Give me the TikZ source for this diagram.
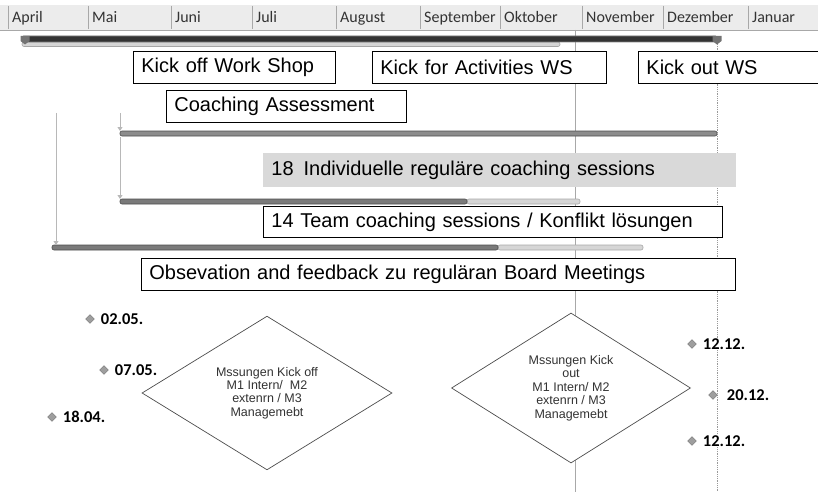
\documentclass[tikz,border=0pt]{standalone}
\usepackage{fontspec}
\setmainfont{Liberation Sans}
\newfontfamily\calibri{Carlito}
\usetikzlibrary{shapes.geometric,arrows.meta,positioning}

\definecolor{hdrgray}{HTML}{ECECEC}
\definecolor{sepgray}{HTML}{A8A8A8}
\definecolor{bardark}{HTML}{7A7A7A}
\definecolor{barlight}{HTML}{D6D6D6}
\definecolor{arrowgray}{HTML}{B8B8B8}
\definecolor{boxgray}{HTML}{D9D9D9}
\definecolor{textgray}{HTML}{333333}

\tikzset{
  month/.style={anchor=base west, inner sep=0pt, text=textgray, font=\calibri\fontsize{16}{16}\selectfont},
  taskbox/.style={draw=black, fill=white, line width=0.8pt, anchor=north west, inner xsep=8pt, inner ysep=0pt, align=left, font=\fontsize{20}{20}\selectfont},
  bigdiamond/.style={diamond, draw=black!70, fill=white, line width=0.7pt, inner sep=0pt, align=center, text=textgray, font=\fontsize{12.5}{13.4}\selectfont},
  msdot/.style={diamond, draw=black!55, fill=black!38, inner sep=0pt, minimum size=9pt},
  mslabel/.style={inner sep=1pt, fill=white, text=black, font=\calibri\bfseries\fontsize{16.5}{16.5}\selectfont},
  progress/.style={rounded corners=2pt, draw=black!70, fill=bardark, line width=0.6pt},
  rest/.style={rounded corners=2pt, draw=black!35, fill=barlight, line width=0.6pt},
  link/.style={arrowgray, line width=1pt, -{Triangle[width=5pt,length=4pt]}}
}

\newcommand{\tmark}[2]{\fill[black!55] (#1,#2) ++(-4.5,-3) -- ++(9,0) -- ++(0,5) -- ++(-4.5,3.5) -- ++(-4.5,-3.5) -- cycle;}

\begin{document}
\begin{tikzpicture}
  \useasboundingbox (0,0) rectangle (818pt,-492pt);
  \clip (0,0) rectangle (818pt,-492pt);

  \begin{scope}[x=1pt, y=-1pt]

  % months
  \fill[hdrgray] (0,5) rectangle (818,30);
  \draw[sepgray, line width=0.6pt] (0,30) -- (818,30);
  \foreach \x/\m in {8/April, 88/Mai, 171/Juni, 252/Juli, 336/August, 420/September, 500/Oktober, 582/November, 663/Dezember, 748/Januar}{
    \draw[sepgray, line width=0.8pt] (\x,6) -- (\x,29);
    \node[month] (m-\m) at (\x+4,23) {\m};
  }

  % today and end lines
  \draw[sepgray, line width=0.7pt] (575,30) -- (575,492);
  \draw[black!40, line width=0.8pt, densely dotted] (717,44) -- (717,492);

  % overall bar
  \draw[rest] (22,42) rectangle (560,46.5);
  \draw[rounded corners=1.5pt, draw=black!50, fill=black!80, line width=0.8pt] (22,36) rectangle (717,42);
  \tmark{25}{39}
  \tmark{717}{39}

  % task bars
  \draw[progress, fill=black!45] (120,131) rectangle (717,136);
  \coordinate (b1) at (120,131);
  \draw[rest] (467,199) rectangle (580,204);
  \draw[progress] (120,199) rectangle (467,204);
  \coordinate (b2) at (120,199);
  \draw[rest] (498,245) rectangle (643,250);
  \draw[progress] (52,245) rectangle (498,250);
  \coordinate (b3) at (56,245);

  \coordinate (s1) at (120,113);
  \coordinate (s2) at (120,137);
  \coordinate (s3) at (56,113);
  \draw[link] (s1) -- (b1);
  \draw[link] (s2) -- (b2);
  \draw[link] (s3) -- (b3);

  % labels
  \node[taskbox, text width=186pt, minimum height=32pt] (kickoff) at (133,51) {Kick off Work Shop};
  \node[taskbox, text width=218pt, minimum height=32pt] (kickfor) at (372,51) {Kick for Activities WS};
  \node[taskbox, text width=200pt, minimum height=32pt] (kickout) at (638,51) {Kick out WS};
  \node[taskbox, text width=224pt, minimum height=32pt] (assess) at (166,90) {Coaching Assessment};
  \node[taskbox, draw=none, fill=boxgray, text width=457pt, minimum height=34pt] (indiv) at (263,153) {18\, Individuelle reguläre coaching sessions};
  \node[taskbox, text width=443pt, minimum height=31pt] (team) at (263,206) {14 Team coaching sessions / Konflikt lösungen};
  \node[taskbox, text width=578pt, minimum height=32pt] (board) at (141,258) {Obsevation and feedback zu reguläran Board Meetings};

  % measurements
  \node[bigdiamond, minimum width=250pt, minimum height=130pt] (messin) at (267,393)
    {Mssungen Kick off\\M1 Intern/\ \ M2\\extenrn / M3\\Managemebt};
  \node[bigdiamond, minimum width=239pt, minimum height=130pt] (messout) at (571,388)
    {Mssungen Kick\\out\\M1 Intern/ M2\\extenrn / M3\\Managemebt};

  % milestones
  \node[msdot] (d0205) at (90,319) {};
  \node[mslabel, right=5pt of d0205] (l0205) {02.05.};
  \node[msdot] (d0705) at (104,370) {};
  \node[mslabel, right=5pt of d0705] (l0705) {07.05.};
  \node[msdot] (d1804) at (52,417) {};
  \node[mslabel, right=5pt of d1804] (l1804) {18.04.};
  \node[msdot] (d1212a) at (692,344) {};
  \node[mslabel, right=5pt of d1212a] (l1212a) {12.12.};
  \node[msdot] (d2012) at (713,395) {};
  \node[mslabel, right=8pt of d2012] (l2012) {20.12.};
  \node[msdot] (d1212b) at (692,441) {};
  \node[mslabel, right=5pt of d1212b] (l1212b) {12.12.};

  \end{scope}
\end{tikzpicture}
\end{document}
